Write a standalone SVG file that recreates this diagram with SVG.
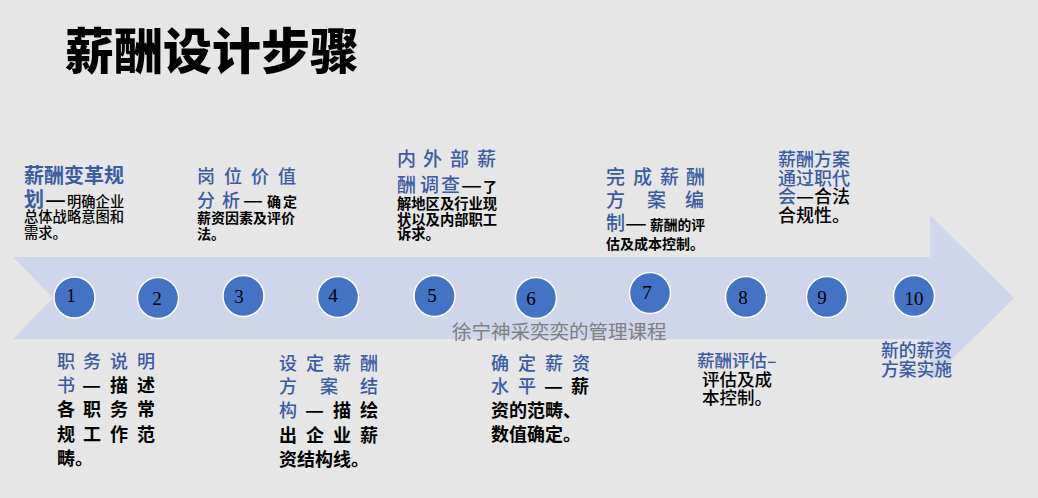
<svg xmlns="http://www.w3.org/2000/svg" width="1038" height="498" viewBox="0 0 1038 498">
<style>
text{font-family:"Noto Sans CJK SC","Noto Sans",sans-serif;}
.b{fill:#3B5BA5;font-weight:500;}
.bb{fill:#3B5BA5;font-weight:700;}
.k{fill:#000;font-weight:700;}
.kn{fill:#000;font-weight:500;}
.num{font-family:"Liberation Serif",serif;font-size:19px;fill:#000;text-anchor:middle;}
.c{fill:#4472C4;stroke:#fff;stroke-width:1.5;}
</style>
<rect width="1038" height="498" fill="#E6E6E6"/>
<text x="65" y="69" style="font-size:49px;font-weight:900;fill:#000">薪酬设计步骤</text>

<g id="connectors">
<path d="M13,257 H930 V215 L1014,298 L930,381 V339 H13 L53,298 Z" fill="#CFD5EA"/>
</g>

<text x="452" y="339" style="font-size:19.5px;fill:#808080;font-weight:400">徐宁神采奕奕的管理课程</text>

<g id="n1"><circle class="c" cx="74.5" cy="297.5" r="20.5"/><text class="num" x="71" y="302">1</text></g>
<g id="n2"><circle class="c" cx="158" cy="298" r="20.5"/><text class="num" x="157" y="305">2</text></g>
<g id="n3"><circle class="c" cx="243.5" cy="296" r="20.5"/><text class="num" x="239" y="302.5">3</text></g>
<g id="n4"><circle class="c" cx="338" cy="297" r="20.5"/><text class="num" x="333" y="302">4</text></g>
<g id="n5"><circle class="c" cx="434.5" cy="296" r="20.5"/><text class="num" x="432" y="301.5">5</text></g>
<g id="n6"><circle class="c" cx="536" cy="298" r="20.5"/><text class="num" x="531" y="305">6</text></g>
<g id="n7"><circle class="c" cx="650" cy="293" r="20.5"/><text class="num" x="647" y="299">7</text></g>
<g id="n8"><circle class="c" cx="746" cy="297" r="20.5"/><text class="num" x="743" y="304">8</text></g>
<g id="n9"><circle class="c" cx="827" cy="297" r="20.5"/><text class="num" x="822" y="304">9</text></g>
<g id="n10"><circle class="c" cx="914" cy="296" r="20.5"/><text class="num" x="914" y="305">10</text></g>

<g id="t1">
<text class="bb" x="24" y="183" style="font-size:20px">薪酬变革规</text>
<text class="bb" x="24" y="207" style="font-size:20px">划</text>
<text class="k" x="45" y="207" style="font-size:20px" textLength="21" lengthAdjust="spacingAndGlyphs">—</text>
<text class="kn" x="67" y="207" style="font-size:14.3px">明确企业</text>
<text class="kn" x="24" y="222" style="font-size:14.3px">总体战略意图和</text>
<text class="kn" x="24" y="238" style="font-size:14.3px">需求。</text>
</g>

<g id="t2">
<text class="b" x="197 224 251 278" y="183" style="font-size:18px">岗位价值</text>
<text class="b" x="197 222" y="207" style="font-size:18px">分析</text>
<text class="kn" x="243" y="207" style="font-size:18px" textLength="20" lengthAdjust="spacingAndGlyphs">—</text>
<text class="k" x="267 283" y="207" style="font-size:14px">确定</text>
<text class="k" x="197" y="223" style="font-size:14px">薪资因素及评价</text>
<text class="k" x="197" y="239" style="font-size:14px">法。</text>
</g>

<g id="t3">
<text class="b" x="397 423 450 477" y="166" style="font-size:19px">内外部薪</text>
<text class="b" x="397 420 441" y="192" style="font-size:19px">酬调查</text>
<text class="kn" x="461" y="192" style="font-size:19px" textLength="21" lengthAdjust="spacingAndGlyphs">—</text>
<text class="k" x="483" y="192" style="font-size:14px">了</text>
<text class="k" x="397" y="209" style="font-size:14.3px">解地区及行业现</text>
<text class="k" x="397" y="225" style="font-size:14.3px">状以及内部职工</text>
<text class="k" x="397" y="239" style="font-size:14.3px">诉求。</text>
</g>

<g id="t4">
<text class="b" x="606 633 660 686" y="184" style="font-size:19px">完成薪酬</text>
<text class="b" x="606 647 685" y="207" style="font-size:19px">方案编</text>
<text class="b" x="606" y="230" style="font-size:19px">制</text>
<text class="kn" x="625" y="230" style="font-size:19px" textLength="22" lengthAdjust="spacingAndGlyphs">—</text>
<text class="k" x="650" y="230" style="font-size:13.75px">薪酬的评</text>
<text class="k" x="606" y="249" style="font-size:14px">估及成本控制。</text>
</g>

<g id="t5">
<text class="b" x="778" y="166" style="font-size:18px">薪酬方案</text>
<text class="b" x="778" y="185" style="font-size:18px">通过职代</text>
<text class="b" x="778" y="203" style="font-size:18px">会</text>
<text class="kn" x="796" y="203" style="font-size:18px" textLength="18" lengthAdjust="spacingAndGlyphs">—</text>
<text class="kn" x="814" y="203" style="font-size:18px">合法</text>
<text class="kn" x="778" y="222" style="font-size:18px">合规性。</text>
</g>

<g id="t6">
<text class="b" x="57 83 110 137" y="368" style="font-size:18px">职务说明</text>
<text class="b" x="57" y="392" style="font-size:18px">书</text>
<text class="k" x="82" y="392" style="font-size:18px" textLength="19" lengthAdjust="spacingAndGlyphs">—</text>
<text class="k" x="110 137" y="392" style="font-size:18px">描述</text>
<text class="k" x="57 83 110 137" y="416" style="font-size:18px">各职务常</text>
<text class="k" x="57 83 110 137" y="441" style="font-size:18px">规工作范</text>
<text class="k" x="57" y="465" style="font-size:18px">畴。</text>
</g>

<g id="t7">
<text class="b" x="279 306 333 360" y="370" style="font-size:18px">设定薪酬</text>
<text class="b" x="279 320 360" y="393" style="font-size:18px">方案结</text>
<text class="b" x="279" y="417" style="font-size:18px">构</text>
<text class="k" x="305" y="417" style="font-size:18px" textLength="19" lengthAdjust="spacingAndGlyphs">—</text>
<text class="k" x="333 360" y="417" style="font-size:18px">描绘</text>
<text class="k" x="279 306 333 360" y="442" style="font-size:18px">出企业薪</text>
<text class="k" x="279" y="466" style="font-size:18px">资结构线。</text>
</g>

<g id="t8">
<text class="b" x="491 518 545 572" y="370" style="font-size:18px">确定薪资</text>
<text class="b" x="491 518" y="393" style="font-size:18px">水平</text>
<text class="k" x="544" y="393" style="font-size:18px" textLength="19" lengthAdjust="spacingAndGlyphs">—</text>
<text class="k" x="571" y="393" style="font-size:18px">薪</text>
<text class="k" x="491" y="417" style="font-size:18px">资的范畴、</text>
<text class="k" x="491" y="441" style="font-size:18px">数值确定。</text>
</g>

<g id="t9">
<text class="b" x="697" y="367" style="font-size:17.5px">薪酬评估–</text>
<text class="kn" x="702" y="386" style="font-size:17.5px">评估及成</text>
<text class="kn" x="702" y="404" style="font-size:17.5px">本控制。</text>
</g>

<g id="t10">
<text class="b" x="881" y="357" style="font-size:17.8px">新的薪资</text>
<text class="b" x="881" y="376" style="font-size:17.8px">方案实施</text>
</g>
</svg>
